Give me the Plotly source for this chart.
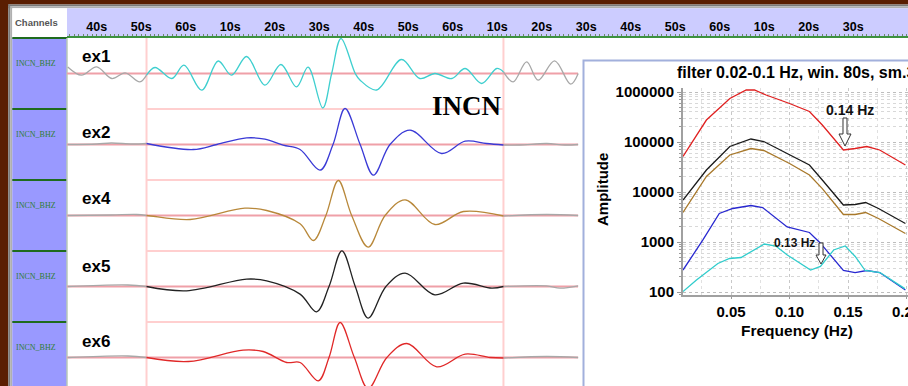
import plotly.graph_objects as go

W, H = 908, 386
FONT = "Liberation Sans, Arial, sans-serif"

# ---------------- data ----------------
TICK_SECONDS = list(range(40, 221, 10))
TICK_LABELS = ["40s", "50s", "60s", "10s", "20s", "30s", "40s", "50s", "60s", "10s",
               "20s", "30s", "40s", "50s", "60s", "10s", "20s", "30s", "40s"]
WINDOW_START, WINDOW_END = 51.2, 131.4
STATION = "INCN"
CHANNEL_NAMES = ["INCN_BHZ", "INCN_BHZ", "INCN_BHZ", "INCN_BHZ", "INCN_BHZ"]
TRACE_NAMES = ["ex1", "ex2", "ex4", "ex5", "ex6"]

EX1_T = [33.5, 36.6, 40.0, 43.4, 46.4, 49.7, 51.2, 53.1, 56.9, 59.6, 63.6, 67.3, 70.3, 73.7,
         77.8, 81.4, 84.9, 87.5, 90.8, 92.8, 94.9, 98.1, 99.2, 102.9, 108.5, 112.6, 116.0,
         119.8, 122.8, 126.5, 129.9, 131.4, 133.6, 136.6, 139.2, 142.9, 146.5, 148.2]
EX1_A = [6.6, -1.7, 6.6, -5.0, 0.6, -8.4, -1.7, 6.0, -5.0, 8.3, -16.7, 12.5, -1.7, 17.0,
         -11.7, 9.0, -13.4, 6.3, -34.5, 0.0, 35.0, 0.0, -6.7, -16.5, 14.0, -5.0, 0.0,
         -5.0, 5.0, -10.0, 5.0, 1.6, -8.4, 11.6, -6.7, 12.6, -10.7, 0.0]

EX2_T = [33.5, 40.0, 43.3, 48.0, 51.2, 61.7, 67.0, 73.7, 77.8, 81.9, 85.7, 90.2, 93.1, 95.8,
         99.2, 102.2, 105.9, 110.4, 117.5, 122.8, 127.6, 131.4, 135.1, 141.1, 145.2, 148.2]
EX2_A = [0.0, 0.5, 1.5, 0.5, 1.0, -5.0, 0.0, 6.6, 5.3, -0.7, -5.0, -25.7, 0.0, 36.0,
         0.0, -30.7, 0.0, 14.3, -9.0, 3.3, 1.0, -0.5, -0.5, 1.0, -0.5, 0.0]

EX4_T = [33.5, 43.3, 49.0, 51.2, 52.2, 61.0, 73.3, 78.2, 85.7, 88.7, 91.5, 94.3, 97.3,
         101.0, 104.8, 109.3, 116.0, 122.4, 131.4, 141.1, 148.2]
EX4_A = [0.0, 0.5, 1.0, 0.0, -0.5, -4.0, 7.3, 5.0, -8.3, -25.0, 0.0, 35.0, 0.0,
         -31.7, 0.0, 15.7, -9.0, 4.0, -0.5, 1.0, 0.0]

EX5_T = [33.5, 47.0, 51.2, 60.2, 73.7, 78.2, 85.7, 89.4, 92.2, 95.1, 98.1, 101.0, 105.0,
         109.3, 116.0, 122.4, 128.8, 131.4, 141.1, 144.1, 148.2]
EX5_A = [0.0, 1.5, 0.0, -4.3, 7.4, 5.7, -7.6, -25.3, 0.0, 35.7, 0.0, -31.6, 0.0,
         13.4, -8.3, 3.4, -1.6, 0.0, 0.7, -1.6, 0.7]

EX6_T = [33.5, 47.0, 51.2, 60.6, 72.9, 77.4, 82.7, 85.7, 89.8, 92.2, 94.7, 97.9, 101.0,
         105.2, 109.7, 116.4, 122.8, 128.4, 131.4, 141.1, 148.2]
EX6_A = [0.0, 1.5, 0.0, -4.0, 7.4, 6.0, -5.0, -5.0, -23.3, 0.0, 35.0, 0.0, -31.0,
         0.0, 14.0, -9.3, 3.4, 0.0, -0.5, 1.0, 0.0]

SPEC_TITLE = "filter 0.02-0.1 Hz, win. 80s, sm.3"
RED_F = [0.009, 0.029, 0.049, 0.063, 0.070, 0.080, 0.100, 0.117, 0.128, 0.146, 0.156, 0.166, 0.177, 0.199]
RED_A = [51300, 275000, 741000, 1096000, 1096000, 871000, 589000, 407000, 219000, 69200, 74100, 81300, 69200, 34700]
BLACK_F = [0.009, 0.029, 0.049, 0.067, 0.078, 0.100, 0.117, 0.128, 0.146, 0.156, 0.165, 0.176, 0.199]
BLACK_A = [6920, 27500, 81300, 114800, 102300, 55000, 34700, 17400, 5500, 5620, 6170, 4680, 2340]
BROWN_F = [0.009, 0.029, 0.049, 0.067, 0.078, 0.100, 0.117, 0.128, 0.146, 0.156, 0.165, 0.176, 0.199]
BROWN_A = [3890, 20400, 55000, 74100, 67600, 37200, 21900, 11700, 3550, 3550, 3890, 2950, 1480]
BLUE_F = [0.009, 0.026, 0.040, 0.0515, 0.067, 0.077, 0.098, 0.117, 0.126, 0.146, 0.156, 0.166, 0.177, 0.199]
BLUE_A = [275, 1100, 3720, 4680, 5370, 4900, 2000, 1550, 970, 269, 245, 269, 245, 110]
CYAN_F = [0.009, 0.0205, 0.0388, 0.0487, 0.0586, 0.0784, 0.0883, 0.0981, 0.118, 0.1264, 0.1377, 0.1476, 0.1561, 0.1646, 0.1773, 0.1985]
CYAN_A = [102, 174, 372, 468, 490, 912, 832, 550, 275, 324, 692, 832, 513, 269, 245, 117]
AMP_TICKS = [100, 1000, 10000, 100000, 1000000]
AMP_LABELS = ["100", "1000", "10000", "100000", "1000000"]
FREQ_TICKS = [0.05, 0.10, 0.15, 0.20]
FREQ_LABELS = ["0.05", "0.10", "0.15", "0.20"]
MARK_1 = "0.14 Hz"
MARK_2 = "0.13 Hz"

# ---------------- layout helpers ----------------
def X(px):
    return px / W

def Y(py):
    return 1 - py / H

LEFT = 67
HEAD_B = 38
ROW_H = 71
TRACE_END_PX = 578

traces = [(EX1_T, EX1_A), (EX2_T, EX2_A), (EX4_T, EX4_A), (EX5_T, EX5_A), (EX6_T, EX6_A)]
colors = ["#3ECFCF", "#3A3AD6", "#B8883A", "#222222", "#E02828"]
GRAY = "#A8A8A8"

fig = go.Figure()

for i, ((t, a), col) in enumerate(zip(traces, colors)):
    base = HEAD_B + ROW_H * (i + 0.5)
    y = [-base + v for v in a]
    left = [(tt, yy) for tt, yy in zip(t, y) if tt <= WINDOW_START]
    mid = [(tt, yy) for tt, yy in zip(t, y) if WINDOW_START <= tt <= WINDOW_END]
    right = [(tt, yy) for tt, yy in zip(t, y) if tt >= WINDOW_END]
    for seg, c in ((left, GRAY), (right, GRAY), (mid, col)):
        fig.add_trace(go.Scatter(x=[p[0] for p in seg], y=[p[1] for p in seg], mode="lines",
                                 line=dict(color=c, width=1.3, shape="spline"),
                                 hoverinfo="skip", showlegend=False, xaxis="x", yaxis="y"))

spec = [(RED_F, RED_A, "#E02020"), (BLACK_F, BLACK_A, "#1A1A1A"), (BROWN_F, BROWN_A, "#A8782A"),
        (BLUE_F, BLUE_A, "#2828D0"), (CYAN_F, CYAN_A, "#30CCCC")]
for f, a, c in spec:
    fig.add_trace(go.Scatter(x=f, y=a, mode="lines", line=dict(color=c, width=1.3),
                             hoverinfo="skip", showlegend=False, xaxis="x2", yaxis="y2"))

shapes = []

def rect(x0, y0, x1, y1, fill, line=None, lw=0, layer="below"):
    shapes.append(dict(type="rect", xref="paper", yref="paper", x0=X(x0), x1=X(x1),
                       y0=Y(y1), y1=Y(y0), fillcolor=fill,
                       line=dict(color=line or fill, width=lw), layer=layer))

def hline(x0, x1, y, color, w):
    shapes.append(dict(type="line", xref="paper", yref="paper", x0=X(x0), x1=X(x1),
                       y0=Y(y), y1=Y(y), line=dict(color=color, width=w), layer="below"))

BROWN = "#5A1E02"
rect(0, 0, W, 4.5, BROWN)
rect(0, 4.5, W, 6.3, "#7A7A7A")
rect(0, 6.3, W, 8.3, "#B0B0B0")
rect(0, 0, 8.3, H, BROWN)
rect(8.3, 4.5, 10.3, H, "#7A7A7A")
rect(10.3, 6.3, 12.3, H, "#B0B0B0")
rect(12.3, 8.3, LEFT, HEAD_B, "#FFFFFF")
rect(12.3, HEAD_B, LEFT, H, "#9999FF")
rect(LEFT, 8.3, W, HEAD_B, "#CCCCFF")
hline(12.3, LEFT, HEAD_B, "#1E6B1E", 2)
for k in range(1, 5):
    hline(12.3, LEFT, HEAD_B + ROW_H * k, "#1E6B1E", 2)
shapes.append(dict(type="line", xref="paper", yref="paper", x0=X(LEFT), x1=X(LEFT),
                   y0=0, y1=Y(HEAD_B), line=dict(color="#B8C8B8", width=1.5), layer="below"))

# selection window (pink)
PINK = "#FFCFCF"
for tw in (WINDOW_START, WINDOW_END):
    shapes.append(dict(type="line", xref="x", yref="paper", x0=tw, x1=tw, y0=0, y1=Y(HEAD_B),
                       line=dict(color=PINK, width=2), layer="below"))
for k in range(1, 5):
    yb = -(HEAD_B + ROW_H * k)
    shapes.append(dict(type="line", xref="x", yref="y", x0=WINDOW_START, x1=WINDOW_END,
                       y0=yb, y1=yb, line=dict(color=PINK, width=2), layer="below"))
for i in range(5):
    base = -(HEAD_B + ROW_H * (i + 0.5))
    shapes.append(dict(type="line", xref="paper", yref="y", x0=X(LEFT), x1=X(TRACE_END_PX),
                       y0=base, y1=base, line=dict(color="#EFA0A8", width=2), layer="below"))

# inset panel
rect(583.5, 60.5, W + 5, H + 5, "#FFFFFF", line="#A2B0DC", lw=2)

def arrow(xc, ytop, yhead, ytip, sw, hw):
    pts = [(xc - sw, ytop), (xc + sw, ytop), (xc + sw, yhead), (xc + hw, yhead), (xc, ytip),
           (xc - hw, yhead), (xc - sw, yhead)]
    p = "M " + " L ".join(f"{X(px):.5f},{Y(py):.5f}" for px, py in pts) + " Z"
    shapes.append(dict(type="path", xref="paper", yref="paper", path=p, fillcolor="#FFFFFF",
                       line=dict(color="#333333", width=1), layer="above"))

arrow(845, 118, 134, 146, 2, 6)
arrow(821, 243, 255, 264, 2, 5)

ann = []

def text(px, py, s, size, xanchor="left", color="#000", bold=True, family=FONT):
    ann.append(dict(xref="paper", yref="paper", x=X(px), y=Y(py), text=s, showarrow=False,
                    xanchor=xanchor, yanchor="middle",
                    font=dict(family=family, size=size, color=color,
                              weight="bold" if bold else "normal")))

text(13, 23, "Channels", 9.5, color="#555555")
label_y = [57, 132, 198, 266, 341]
for i in range(5):
    text(14, HEAD_B + ROW_H * i + 25, CHANNEL_NAMES[i], 8, color="#2E7D32", bold=False,
         family="Liberation Serif, Times New Roman, serif")
    text(80, label_y[i], TRACE_NAMES[i], 17)
text(467, 106, STATION, 27, xanchor="center", family="Liberation Serif, Times New Roman, serif")
text(675, 72, SPEC_TITLE, 16)
text(850, 110, MARK_1, 14, xanchor="center", color="#111")
text(794, 243, MARK_2, 12, xanchor="center", color="#111")
ann.append(dict(xref="paper", yref="paper", x=X(602), y=Y(190), text="Amplitude", showarrow=False,
                textangle=-90, xanchor="center", yanchor="middle",
                font=dict(family=FONT, size=15, color="#000", weight="bold")))
text(797, 330, "Frequency (Hz)", 15.5, xanchor="center")

fig.update_layout(
    width=W, height=H, autosize=False,
    margin=dict(l=0, r=0, t=0, b=0, pad=0, autoexpand=False),
    paper_bgcolor="#FFFFFF", plot_bgcolor="#FFFFFF",
    showlegend=False,
    xaxis=dict(domain=[X(LEFT), 1], range=[33.33, 222.3], side="top", anchor="y",
               automargin=False,
               tickmode="array", tickvals=TICK_SECONDS, ticktext=TICK_LABELS,
               ticks="",
               tickfont=dict(family=FONT, size=12.5, color="#000", weight="bold"),
               minor=dict(dtick=1, tick0=0, ticks="outside", ticklen=2, tickcolor="#6A8A6A"),
               showline=True, linecolor="#3D9140", linewidth=2,
               showgrid=False, zeroline=False, fixedrange=True),
    yaxis=dict(domain=[0, Y(HEAD_B)], range=[-H, -HEAD_B], visible=False, showgrid=False,
               automargin=False, zeroline=False, fixedrange=True),
    xaxis2=dict(domain=[X(683), 1], range=[0.009, 0.2012], anchor="y2", automargin=False,
                tickmode="array", tickvals=FREQ_TICKS, ticktext=FREQ_LABELS,
                ticks="outside", ticklen=2, tickcolor="#999",
                ticklabeloverflow="allow",
                tickfont=dict(family=FONT, size=15, color="#000", weight="bold"),
                showline=True, linecolor="#A0A0A0", linewidth=2,
                showgrid=True, gridcolor="#C8C8C8", griddash="dot", zeroline=False,
                minor=dict(dtick=0.025, tick0=0, showgrid=True, gridcolor="#E0E0E0", griddash="dot")),
    yaxis2=dict(domain=[Y(295), Y(88)], type="log", range=[1.94, 6.08], anchor="x2",
                automargin=False,
                tickmode="array", tickvals=AMP_TICKS, ticktext=AMP_LABELS,
                ticks="outside", ticklen=4, tickcolor="#999",
                tickfont=dict(family=FONT, size=15, color="#000", weight="bold"),
                showline=True, linecolor="#A0A0A0", linewidth=2,
                showgrid=True, gridcolor="#BDBDBD", griddash="dot", zeroline=False,
                minor=dict(dtick="D1", ticks="outside", ticklen=2, tickcolor="#999",
                           showgrid=True, gridcolor="#D8D8D8", griddash="dot")),
    shapes=shapes,
    annotations=ann,
)

fig.write_html("out.html")
